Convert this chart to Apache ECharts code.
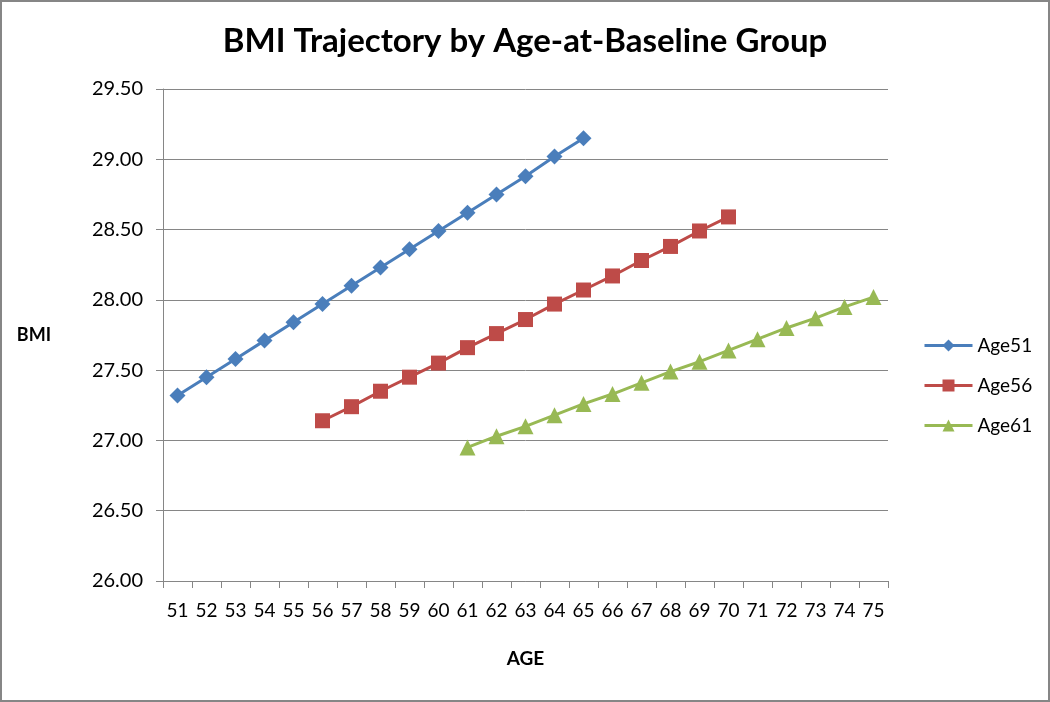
<!DOCTYPE html>
<html>
<head>
<meta charset="utf-8">
<script src="https://cdn.jsdelivr.net/npm/echarts@6/dist/echarts.min.js"></script>
<style>
html,body{margin:0;padding:0;background:#fff;}
#chart{width:1050px;height:702px;}
</style>
</head>
<body>
<div id="chart"></div>
<script>
const ages = ['51','52','53','54','55','56','57','58','59','60','61','62','63','64','65','66','67','68','69','70','71','72','73','74','75'];
const age51 = [27.32,27.45,27.58,27.71,27.84,27.97,28.10,28.23,28.36,28.49,28.62,28.75,28.88,29.02,29.15,null,null,null,null,null,null,null,null,null,null];
const age56 = [null,null,null,null,null,27.14,27.24,27.35,27.45,27.55,27.66,27.76,27.86,27.97,28.07,28.17,28.28,28.38,28.49,28.59,null,null,null,null,null];
const age61 = [null,null,null,null,null,null,null,null,null,null,26.95,27.03,27.10,27.18,27.26,27.33,27.41,27.49,27.56,27.64,27.72,27.80,27.87,27.95,28.02];
const seriesNames = ['Age51','Age56','Age61'];
const titleText = 'BMI Trajectory by Age-at-Baseline Group';

const FONT = 'Lato, "Open Sans", sans-serif';
const chart = echarts.init(document.getElementById('chart'), null, {renderer:'canvas'});
const mk = (name, data, color, symbol, size) => ({
  name, type:'line', data, connectNulls:false,
  symbol, symbolSize:size, showSymbol:true,
  lineStyle:{color, width:3},
  itemStyle:{color},
  emphasis:{disabled:true}, animation:false
});
chart.setOption({
  animation:false,
  graphic:[{type:'rect', shape:{x:1,y:1,width:1048,height:700}, style:{fill:'none', stroke:'#868686', lineWidth:2}, silent:true, z:-1}],
  title:{text:titleText, left:'center', top:20, textStyle:{fontFamily:FONT, fontSize:33, fontWeight:'bold', color:'#000'}},
  legend:{
    orient:'vertical', left:918, top:331, itemGap:21, itemWidth:48, itemHeight:15,
    lineStyle:{width:3},
    textStyle:{fontFamily:FONT, fontSize:19, color:'#000'},
    data:seriesNames
  },
  grid:{left:163, right:162, top:89, bottom:121, containLabel:false},
  xAxis:{
    type:'category', data:ages, boundaryGap:true,
    name:'AGE', nameLocation:'middle', nameGap:68,
    nameTextStyle:{fontFamily:FONT, fontSize:19, fontWeight:'bold', color:'#000'},
    axisLine:{lineStyle:{color:'#868686', width:1}},
    axisTick:{show:true, alignWithLabel:false, length:7, lineStyle:{color:'#868686'}},
    axisLabel:{fontFamily:FONT, fontSize:19, color:'#000', margin:20, interval:0},
    splitLine:{show:false}
  },
  yAxis:{
    type:'value', min:26, max:29.5, interval:0.5,
    name:'BMI', nameLocation:'middle', nameRotate:0, nameGap:112,
    nameTextStyle:{fontFamily:FONT, fontSize:18, fontWeight:'bold', color:'#000'},
    axisLine:{show:true, lineStyle:{color:'#868686', width:1}},
    axisTick:{show:true, length:7, lineStyle:{color:'#868686'}},
    axisLabel:{fontFamily:FONT, fontSize:20, color:'#000', margin:20, formatter:v=>v.toFixed(2)},
    splitLine:{show:true, lineStyle:{color:'#868686', width:1}}
  },
  series:[
    mk(seriesNames[0], age51, '#4A7EBB', 'diamond', 16),
    mk(seriesNames[1], age56, '#BE4B48', 'rect', 15),
    mk(seriesNames[2], age61, '#98B954', 'triangle', 16)
  ]
});
</script>
</body>
</html>
